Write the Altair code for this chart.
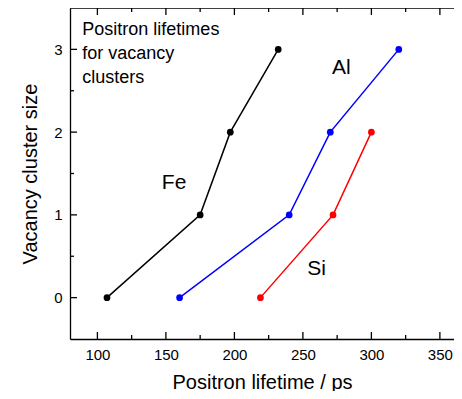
import altair as alt
import pandas as pd

# ---- data ----
fe_x = [107, 175, 197, 232]
fe_y = [0, 1, 2, 3]
al_x = [160, 240, 270, 320]
al_y = [0, 1, 2, 3]
si_x = [219, 272, 300]
si_y = [0, 1, 2]
series = ["Fe", "Al", "Si"]
colors = ["#000000", "#0000ff", "#ff0000"]

x_major = [100, 150, 200, 250, 300, 350]
x_minor = [125, 175, 225, 275, 325]
y_major = [0, 1, 2, 3]
y_minor = [0.5, 1.5, 2.5]

label_text = ["Fe", "Al", "Si"]
label_x = [156, 278, 260]
label_y = [1.38, 2.77, 0.35]

note_lines = ["Positron lifetimes", "for vacancy", "clusters"]
note_x = [89, 89, 89]
note_y = [3.24, 2.95, 2.65]

# ---- tables ----
rows = []
for name, xs, ys in [("Fe", fe_x, fe_y), ("Al", al_x, al_y), ("Si", si_x, si_y)]:
    for i, (a, b) in enumerate(zip(xs, ys)):
        rows.append({"series": name, "lifetime": a, "size": b, "order": i})
df = pd.DataFrame(rows)
lab_df = pd.DataFrame({"t": label_text, "lifetime": label_x, "size": label_y})
note_df = pd.DataFrame({"t": note_lines, "lifetime": note_x, "size": note_y})

W, H = 384, 331
XMIN, XMAX = 80, 360.3
YMIN, YMAX = -0.5, 3.5
PPX = W / (XMAX - XMIN)   # pixels per x unit
PPY = H / (YMAX - YMIN)   # pixels per y unit
FONT = "Liberation Sans"

# inward tick segments and top frame line, as two-point lines
seg = []
def add_seg(k, x1, y1, x2, y2):
    seg.append({"seg": k, "o": 0, "lifetime": x1, "size": y1})
    seg.append({"seg": k, "o": 1, "lifetime": x2, "size": y2})

k = 0
for v in x_major + x_minor:
    L = 7 if v in x_major else 4
    add_seg(k, v, YMIN, v, YMIN + L / PPY); k += 1
    add_seg(k, v, YMAX, v, YMAX - L / PPY); k += 1
for v in y_major + y_minor:
    L = 7 if v in y_major else 4
    add_seg(k, XMIN, v, XMIN + L / PPX, v); k += 1
add_seg(k, XMIN, YMAX, XMAX, YMAX)
seg_df = pd.DataFrame(seg)

xscale = alt.Scale(domain=[XMIN, XMAX], nice=False, zero=False)
yscale = alt.Scale(domain=[YMIN, YMAX], nice=False, zero=False)
cscale = alt.Scale(domain=series, range=colors)

xaxis = alt.Axis(values=x_major, ticks=False, grid=False, labelPadding=8,
                 labelFontSize=15, title="Positron lifetime / ps", titleFontSize=20,
                 titlePadding=10, format="d")
yaxis = alt.Axis(values=y_major, ticks=False, grid=False, labelPadding=8,
                 labelFontSize=15, title="Vacancy cluster size", titleFontSize=20,
                 titlePadding=13, format="d")

X = alt.X("lifetime:Q", scale=xscale, axis=xaxis)
Y = alt.Y("size:Q", scale=yscale, axis=yaxis)

segments = alt.Chart(seg_df).mark_line(color="black", strokeWidth=1.3).encode(
    x=X, y=Y, detail="seg:N", order="o:Q",
)
lines = alt.Chart(df).mark_line(strokeWidth=1.5).encode(
    x=X, y=Y,
    color=alt.Color("series:N", scale=cscale, legend=None),
    order="order:Q",
    detail="series:N",
)
points = alt.Chart(df).mark_point(filled=True, size=45, opacity=1).encode(
    x=X, y=Y,
    color=alt.Color("series:N", scale=cscale, legend=None),
)
labels = alt.Chart(lab_df).mark_text(font=FONT, fontSize=21, color="black").encode(
    x=X, y=Y, text="t:N",
)
note = alt.Chart(note_df).mark_text(font=FONT, fontSize=18, color="black",
                                    align="left", baseline="middle").encode(
    x=X, y=Y, text="t:N",
)

chart = alt.layer(segments, lines, points, labels, note).properties(
    width=W, height=H,
    autosize=alt.AutoSizeParams(type="none"),
    padding={"left": 62, "top": 0, "right": 0, "bottom": 52},
).configure_view(stroke=None).configure_axis(
    labelFont=FONT, titleFont=FONT, labelColor="black", titleColor="black",
    titleFontWeight="normal", domainColor="black", domainWidth=1.3,
)

chart.save("out.html", embed_options={"renderer": "svg", "actions": False})
